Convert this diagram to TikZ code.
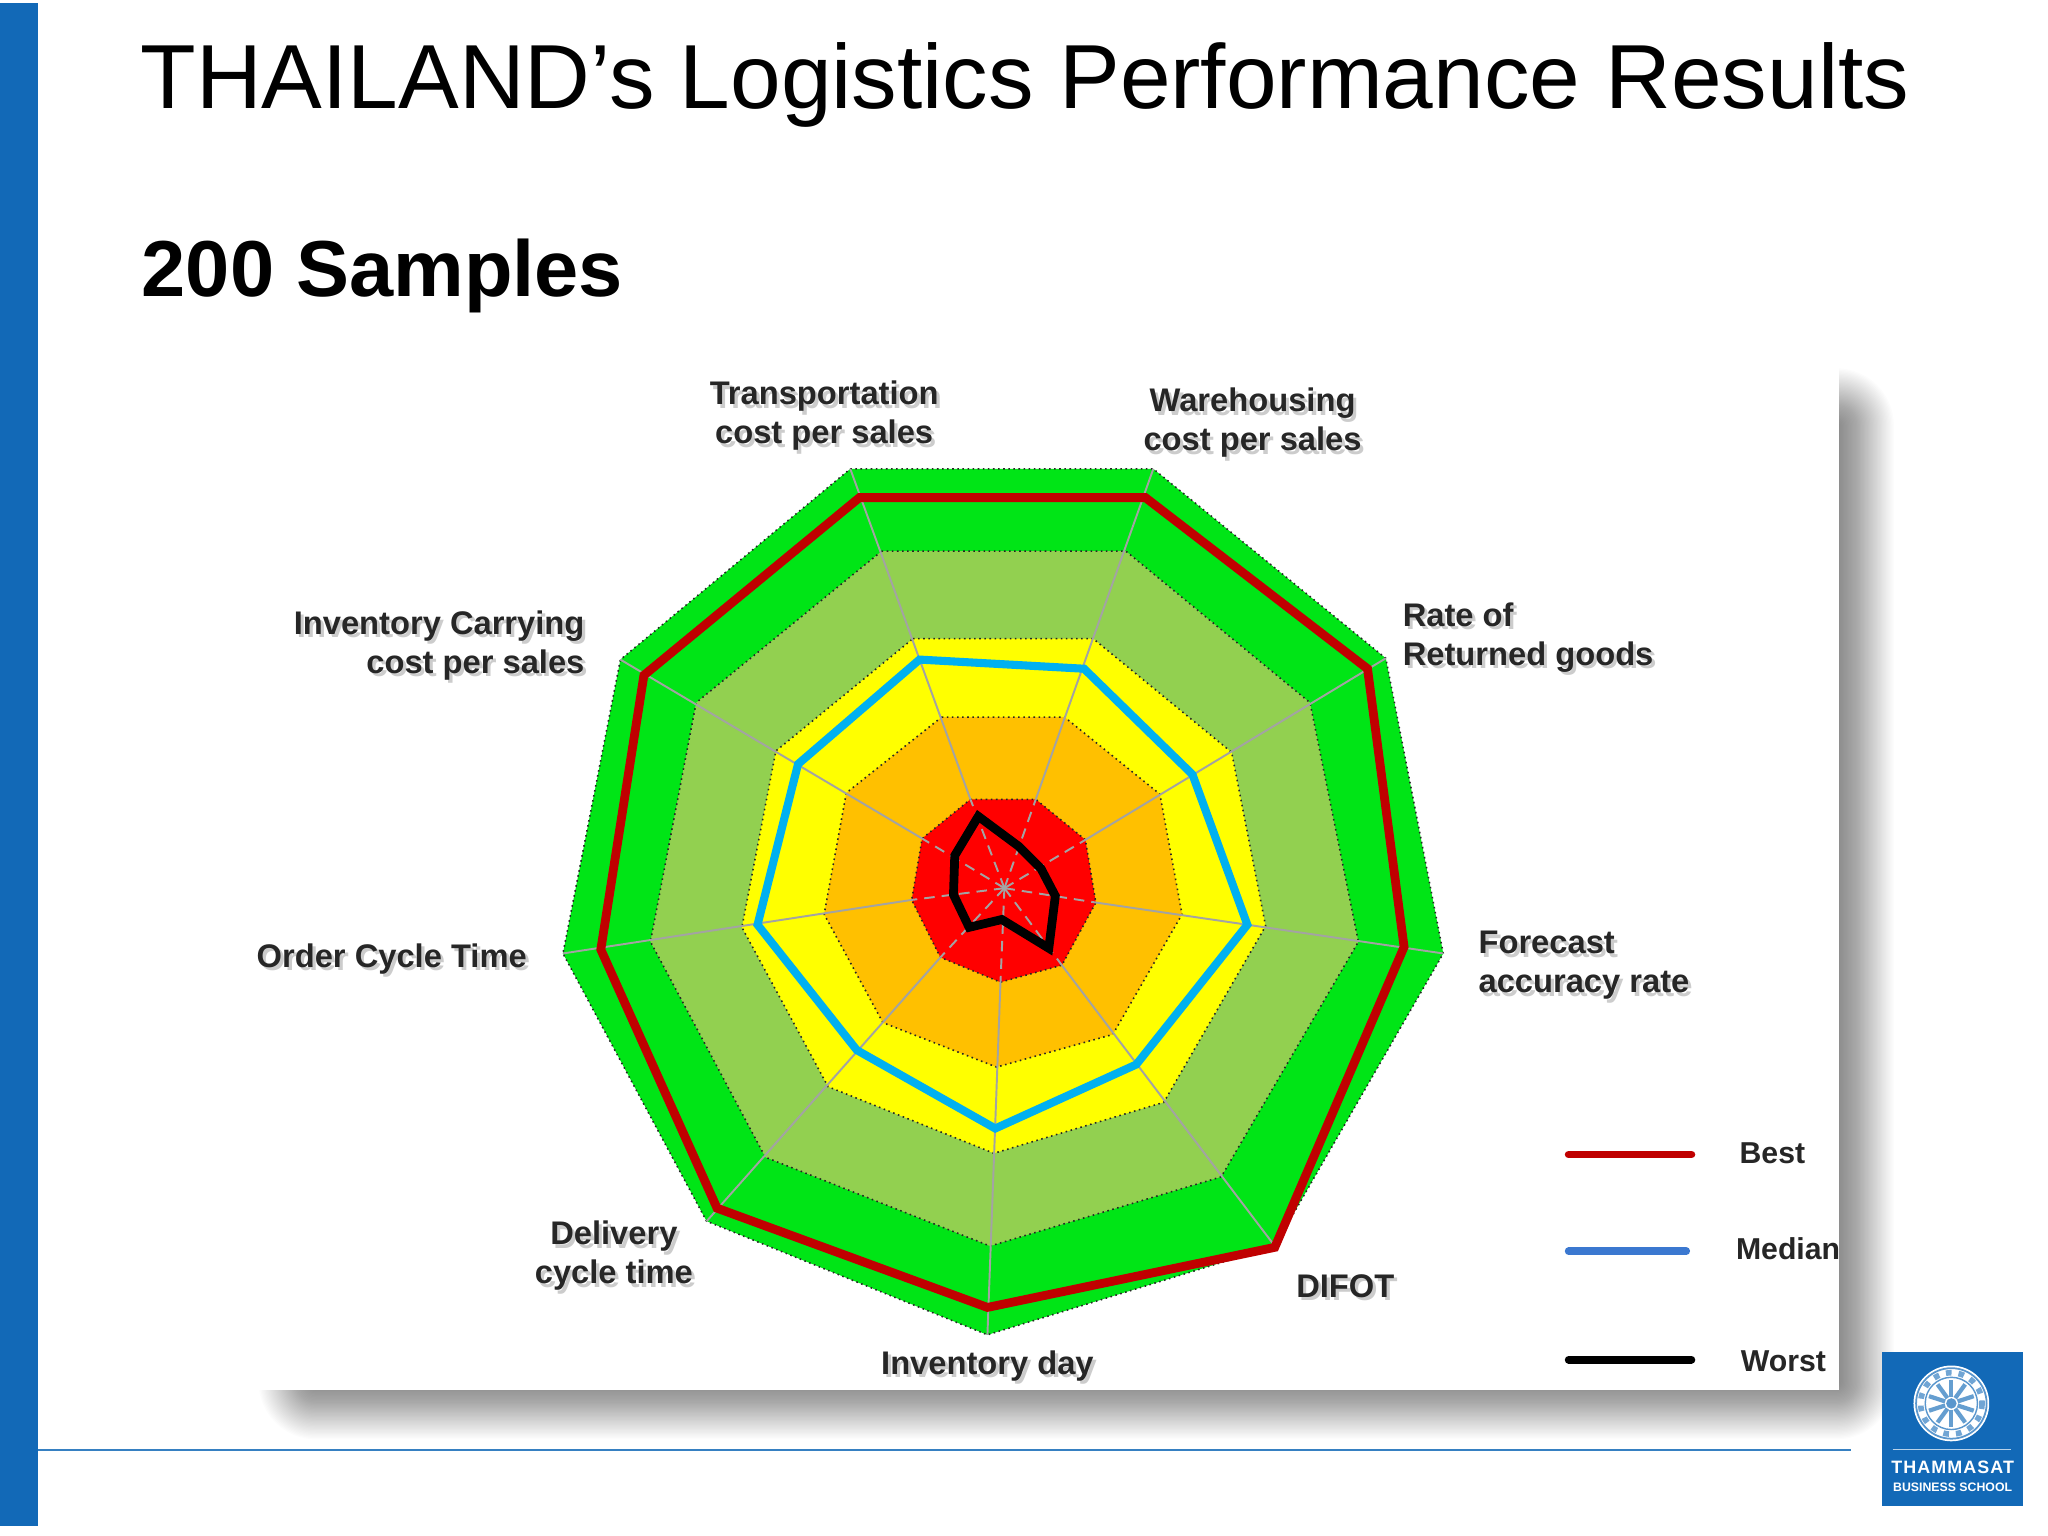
\documentclass[tikz,border=0pt]{standalone}
\usepackage{fontspec}
\setmainfont{Liberation Sans}
\newfontfamily\logofont[LetterSpace=6]{Liberation Sans}
\definecolor{barblue}{HTML}{1269B7}
\definecolor{ringgreen}{HTML}{00E516}
\definecolor{ringlime}{HTML}{92D050}
\definecolor{ringyellow}{HTML}{FFFF00}
\definecolor{ringorange}{HTML}{FFC000}
\definecolor{ringred}{HTML}{FF0000}
\definecolor{bestred}{HTML}{C00000}
\definecolor{medianblue}{HTML}{00B0F0}
\definecolor{keyblue}{HTML}{3B78D0}
\newcommand{\shtxt}[1]{\leavevmode\rlap{\raisebox{-1pt}{\hspace{.9pt}\textcolor{black!20}{#1}}}#1}
\tikzset{
    ring/.style={draw=black!85,densely dotted,line width=.45pt},
    spoke/.style={draw=black!36,line width=.55pt},
    tag/.style={inner sep=0pt,font=\bfseries\fontsize{9.3}{11.1}\selectfont,text=black!85},
    keytag/.style={inner sep=0pt,font=\bfseries\fontsize{8.6}{10}\selectfont,text=black!85},
    dataline/.style={line width=2.5pt,line join=miter},
    keyline/.style={line width=2.2pt,line cap=round}
}
\begin{document}
\begin{tikzpicture}[x=0.01306122cm,y=-0.01306122cm]
        \useasboundingbox (0,0) rectangle (1568,1176);
        \fill[white] (0,0) rectangle (1568,1176);
        \fill[barblue] (0,2) rectangle (29,1168);
        \node[anchor=base west,inner sep=0pt,font=\fontsize{25.9}{30}\selectfont] (title) at (107,83) {THAILAND’s Logistics Performance Results};
        \node[anchor=base west,inner sep=0pt,font=\bfseries\fontsize{22.6}{26}\selectfont] (samples) at (108,227) {200 Samples};
        % card with its soft shadow
        \foreach \e in {-22,-21,...,20}{
            \pgfmathsetmacro{\rad}{(\e+24)*0.37}
            \fill[black,opacity=.0105,rounded corners=\rad pt] (218-\e,302-\e) rectangle (1430+\e,1082+\e);
        }
        \fill[white] (196,282) rectangle (1408,1064);
        \draw[barblue!85,line width=.6pt] (29,1110) -- (1417,1110);
        % rings
        \filldraw[ring,fill=ringgreen] (651,359) -- (883,359) -- (1061,504) -- (1105,730) -- (976,954) -- (756,1022) -- (541,935) -- (431,730) -- (475,505) -- cycle;
        \filldraw[ring,fill=ringlime] (675,422) -- (862,422) -- (1003,538) -- (1040,721) -- (935,901) -- (758,954) -- (586,886) -- (498,721) -- (533,538) -- cycle;
        \filldraw[ring,fill=ringyellow] (699,489) -- (837,489) -- (943,576) -- (969,709) -- (891,844) -- (761,883) -- (634,832) -- (568,710) -- (594,575) -- cycle;
        \filldraw[ring,fill=ringorange] (721,549) -- (815,549) -- (888,608) -- (905,700) -- (852,792) -- (763,817) -- (676,783) -- (631,700) -- (648,607) -- cycle;
        \filldraw[ring,fill=ringred] (743,612) -- (793,612) -- (831,643) -- (839,691) -- (813,739) -- (766,752) -- (720,733) -- (698,689) -- (706,642) -- cycle;
        % spokes
        \coordinate (hub) at (769,680);
        \path (651,359) coordinate (out0) (883,359) coordinate (out1) (1061,504) coordinate (out2) (1105,730) coordinate (out3) (976,954) coordinate (out4) (756,1022) coordinate (out5) (541,935) coordinate (out6) (431,730) coordinate (out7) (475,505) coordinate (out8);
        \path (743,612) coordinate (in0) (793,612) coordinate (in1) (831,643) coordinate (in2) (839,691) coordinate (in3) (813,739) coordinate (in4) (766,752) coordinate (in5) (720,733) coordinate (in6) (698,689) coordinate (in7) (706,642) coordinate (in8);
        \foreach \n in {0,...,8}{
            \draw[spoke] (in\n) -- (out\n);
            \draw[spoke,densely dashed] (hub) -- (in\n);
        }
        % data lines
        \draw[dataline,bestred] (658,381) -- (877,381) -- (1047,512) -- (1075,725) -- (976,955) -- (756,1001) -- (549,925) -- (460,727) -- (493,517) -- cycle;
        \draw[dataline,medianblue,line width=2.3pt] (704,505) -- (830,512) -- (913,593) -- (955,708) -- (870,815) -- (762,864) -- (656,804) -- (580,708) -- (611,585) -- cycle;
        \draw[dataline,black] (749,625) -- (780,648) -- (797,665) -- (808,686) -- (803,726) -- (767,704) -- (742,710) -- (730,685) -- (731,655) -- cycle;
        % labels
        \node[tag,align=center] (transport) at (631,319.5) {\shtxt{Transportation}\\\shtxt{cost per sales}};
        \node[tag,align=center] (warehouse) at (959,325) {\shtxt{Warehousing}\\\shtxt{cost per sales}};
        \node[tag,align=left,anchor=west] (returned) at (1073.5,489.5) {\shtxt{Rate of}\\\shtxt{Returned goods}};
        \node[tag,align=left,anchor=west] (forecast) at (1131.5,740.5) {\shtxt{Forecast}\\\shtxt{accuracy rate}};
        \node[tag] (difot) at (1030,986) {\shtxt{DIFOT}};
        \node[tag] (invday) at (756,1047) {\shtxt{Inventory day}};
        \node[tag,align=center] (delivery) at (470,963) {\shtxt{Delivery}\\\shtxt{cycle time}};
        \node[tag,anchor=west] (cycle) at (196,735.5) {\shtxt{Order Cycle Time}};
        \node[tag,align=right,anchor=east] (carrying) at (448,495.5) {\shtxt{Inventory Carrying}\\\shtxt{cost per sales}};
        % key
        \coordinate (best1) at (1201,884);
        \coordinate (best2) at (1295,884);
        \coordinate (median1) at (1201,958);
        \coordinate (median2) at (1291,958);
        \coordinate (worst1) at (1201,1041);
        \coordinate (worst2) at (1295,1041);
        \draw[keyline,bestred] (best1) -- (best2);
        \draw[keyline,keyblue] (median1) -- (median2);
        \draw[keyline,black] (worst1) -- (worst2);
        \node[keytag] (bestlabel) at (1357,883) {Best};
        \node[keytag] (medianlabel) at (1369,956) {Median};
        \node[keytag] (worstlabel) at (1365.5,1042) {Worst};
        % school logo
        \fill[barblue] (1441,1035) rectangle (1549,1153);
        \fill[white] (1494,1074.5) circle (29);
        \draw[barblue!70,line width=.5pt] (1494,1074.5) circle (27);
        \draw[barblue!60,line width=1.6pt,dotted] (1494,1074.5) circle (23.5);
        \draw[barblue!70,line width=.4pt] (1494,1074.5) circle (20);
        \foreach \a in {0,36,...,324}{
            \draw[barblue!65,line width=1.2pt] (1494,1074.5) ++(\a+18:5) -- ++(\a+18:13);
        }
        \fill[barblue!70] (1494,1074.5) circle (4);
        \draw[white!70!barblue,line width=.4pt] (1449,1110) -- (1540,1110);
        \node[inner sep=0pt,text=white,font=\logofont\bfseries\fontsize{5.1}{6}\selectfont] (thammasat) at (1495,1123.5) {THAMMASAT};
        \node[inner sep=0pt,text=white,font=\bfseries\fontsize{3.5}{4.5}\selectfont] (business) at (1495,1138.5) {BUSINESS SCHOOL};
    \end{tikzpicture}
\end{document}
